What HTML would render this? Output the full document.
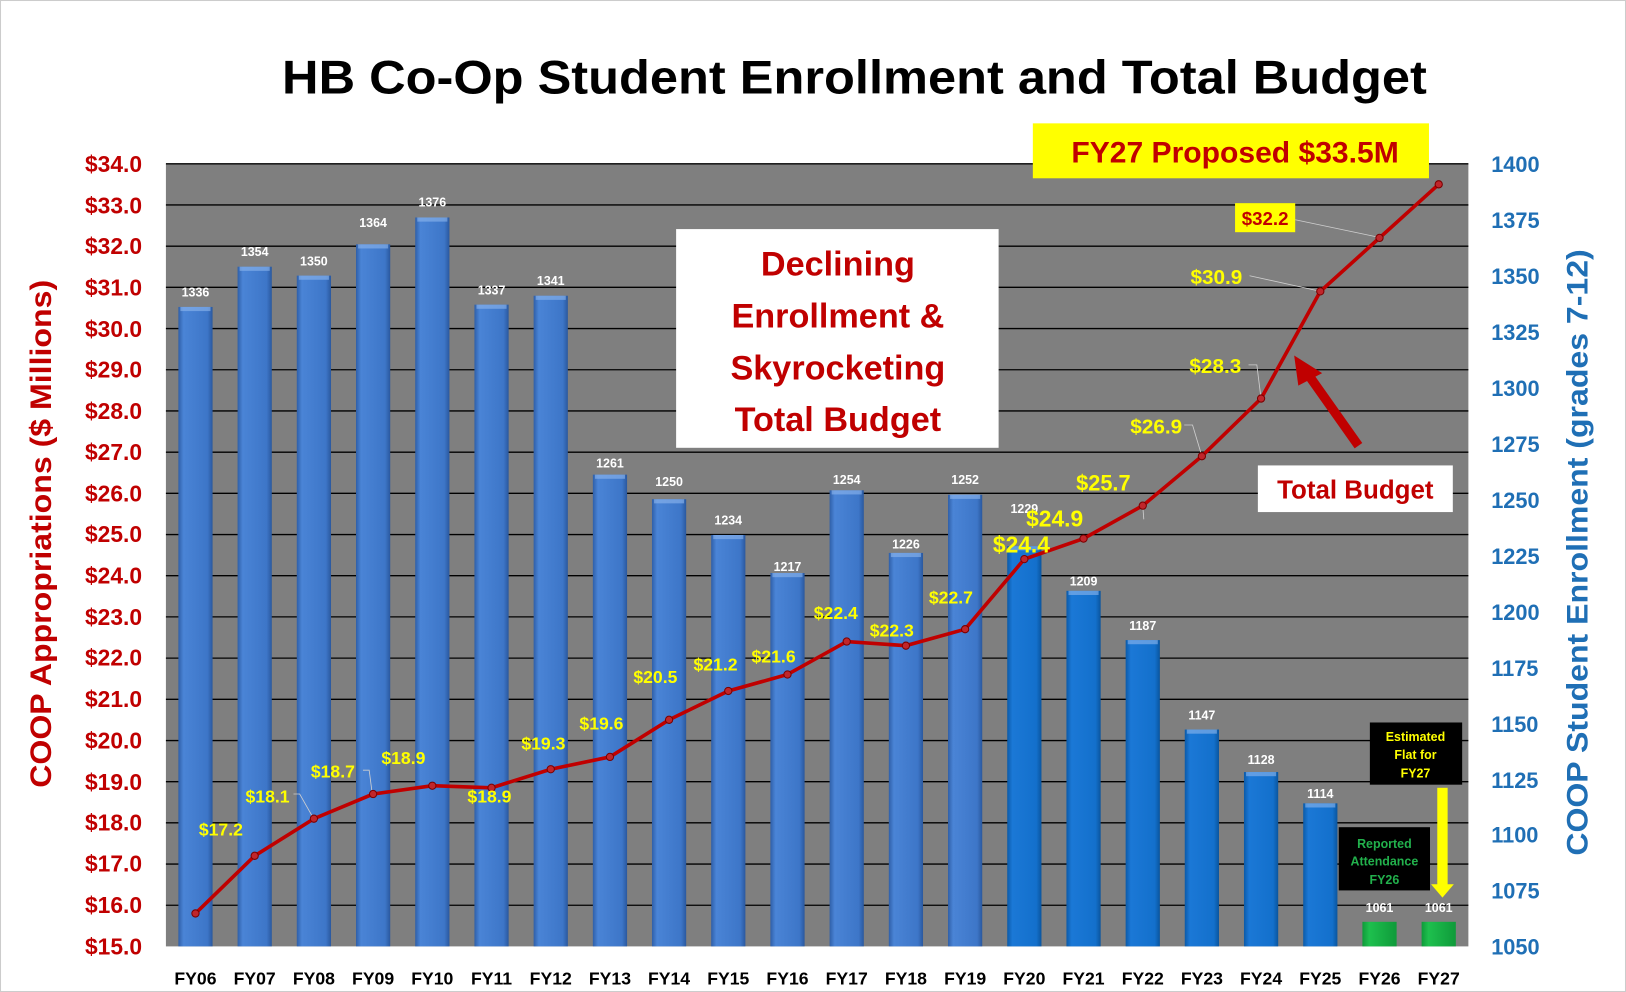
<!DOCTYPE html>
<html><head><meta charset="utf-8"><style>
html,body{margin:0;padding:0;background:#fff;}
svg{display:block;font-family:"Liberation Sans",sans-serif;font-weight:bold;}
</style></head><body>
<svg width="1626" height="992" viewBox="0 0 1568 957" preserveAspectRatio="none" xmlns="http://www.w3.org/2000/svg">
<defs>
<linearGradient id="b1" x1="0" x2="1" y1="0" y2="0"><stop offset="0" stop-color="#2f5fa8"/><stop offset="0.15" stop-color="#4a84d6"/><stop offset="0.85" stop-color="#3d76c8"/><stop offset="1" stop-color="#2a589e"/></linearGradient>
<linearGradient id="b2" x1="0" x2="1" y1="0" y2="0"><stop offset="0" stop-color="#0b5aa8"/><stop offset="0.15" stop-color="#1b78d6"/><stop offset="0.85" stop-color="#1370cc"/><stop offset="1" stop-color="#0a559e"/></linearGradient>
<linearGradient id="b3" x1="0" x2="1" y1="0" y2="0"><stop offset="0" stop-color="#0f9a3a"/><stop offset="0.2" stop-color="#1ec04e"/><stop offset="1" stop-color="#0f9a3a"/></linearGradient>
</defs>
<rect x="0.5" y="0.5" width="1567" height="956" fill="#fff" stroke="#ccc"/>
<text x="824" y="90" font-size="46" text-anchor="middle" textLength="1104" lengthAdjust="spacingAndGlyphs" fill="#000">HB Co-Op Student Enrollment and Total Budget</text>
<rect x="160" y="158" width="1256" height="755" fill="#7f7f7f"/>
<g stroke="#000" stroke-width="1.3">
<line x1="160" x2="1416" y1="158" y2="158"/><line x1="160" x2="1416" y1="197.7" y2="197.7"/><line x1="160" x2="1416" y1="237.5" y2="237.5"/><line x1="160" x2="1416" y1="277.2" y2="277.2"/><line x1="160" x2="1416" y1="317" y2="317"/><line x1="160" x2="1416" y1="356.7" y2="356.7"/><line x1="160" x2="1416" y1="396.4" y2="396.4"/><line x1="160" x2="1416" y1="436.2" y2="436.2"/><line x1="160" x2="1416" y1="475.9" y2="475.9"/><line x1="160" x2="1416" y1="515.7" y2="515.7"/><line x1="160" x2="1416" y1="555.4" y2="555.4"/><line x1="160" x2="1416" y1="595.1" y2="595.1"/><line x1="160" x2="1416" y1="634.9" y2="634.9"/><line x1="160" x2="1416" y1="674.6" y2="674.6"/><line x1="160" x2="1416" y1="714.4" y2="714.4"/><line x1="160" x2="1416" y1="754.1" y2="754.1"/><line x1="160" x2="1416" y1="793.8" y2="793.8"/><line x1="160" x2="1416" y1="833.6" y2="833.6"/><line x1="160" x2="1416" y1="873.3" y2="873.3"/>
</g>
<g fill="url(#b1)">
<rect x="172" y="296.1" width="33" height="616.9"/><rect x="229.1" y="257.3" width="33" height="655.7"/><rect x="286.2" y="265.9" width="33" height="647.1"/><rect x="343.3" y="235.7" width="33" height="677.3"/><rect x="400.4" y="209.8" width="33" height="703.2"/><rect x="457.5" y="293.9" width="33" height="619.1"/><rect x="514.6" y="285.3" width="33" height="627.7"/><rect x="571.7" y="457.9" width="33" height="455.1"/><rect x="628.7" y="481.6" width="33" height="431.4"/><rect x="685.8" y="516.1" width="33" height="396.9"/><rect x="742.9" y="552.8" width="33" height="360.2"/><rect x="800" y="473" width="33" height="440"/><rect x="857.1" y="533.4" width="33" height="379.6"/><rect x="914.2" y="477.3" width="33" height="435.7"/>
</g>
<g fill="url(#b2)">
<rect x="971.3" y="526.9" width="33" height="386.1"/><rect x="1028.4" y="570" width="33" height="343"/><rect x="1085.5" y="617.5" width="33" height="295.5"/><rect x="1142.5" y="703.8" width="33" height="209.2"/><rect x="1199.6" y="744.8" width="33" height="168.2"/><rect x="1256.7" y="775" width="33" height="138"/>
</g>
<g fill="url(#b3)"><rect x="1313.8" y="889.3" width="33" height="23.7"/><rect x="1370.9" y="889.3" width="33" height="23.7"/></g>
<g fill="#8fb8ee" opacity="0.6">
<rect x="174" y="296.1" width="29" height="4"/><rect x="231.1" y="257.3" width="29" height="4"/><rect x="288.2" y="265.9" width="29" height="4"/><rect x="345.3" y="235.7" width="29" height="4"/><rect x="402.4" y="209.8" width="29" height="4"/><rect x="459.5" y="293.9" width="29" height="4"/><rect x="516.6" y="285.3" width="29" height="4"/><rect x="573.7" y="457.9" width="29" height="4"/><rect x="630.7" y="481.6" width="29" height="4"/><rect x="687.8" y="516.1" width="29" height="4"/><rect x="744.9" y="552.8" width="29" height="4"/><rect x="802" y="473" width="29" height="4"/><rect x="859.1" y="533.4" width="29" height="4"/><rect x="916.2" y="477.3" width="29" height="4"/><rect x="973.3" y="526.9" width="29" height="4"/><rect x="1030.4" y="570" width="29" height="4"/><rect x="1087.5" y="617.5" width="29" height="4"/><rect x="1144.5" y="703.8" width="29" height="4"/><rect x="1201.6" y="744.8" width="29" height="4"/><rect x="1258.7" y="775" width="29" height="4"/>
</g>
<g fill="#fff" font-size="12" text-anchor="middle">
<text x="188.5" y="286">1336</text><text x="245.6" y="247">1354</text><text x="302.7" y="256">1350</text><text x="359.8" y="219">1364</text><text x="416.9" y="199">1376</text><text x="474" y="284">1337</text><text x="531.1" y="275">1341</text><text x="588.2" y="451">1261</text><text x="645.2" y="469">1250</text><text x="702.3" y="506">1234</text><text x="759.4" y="551">1217</text><text x="816.5" y="467">1254</text><text x="873.6" y="529">1226</text><text x="930.7" y="467">1252</text><text x="987.8" y="495">1229</text><text x="1044.9" y="565">1209</text><text x="1102" y="608">1187</text><text x="1159" y="694">1147</text><text x="1216.1" y="737">1128</text><text x="1273.2" y="770">1114</text><text x="1330.3" y="880">1061</text><text x="1387.4" y="880">1061</text>
</g>
<g stroke="#cfcfcf" stroke-width="0.8" fill="none">
<polyline points="283,766 289,766 302,789"/><polyline points="350,743 356,743 359,766"/><polyline points="1103,501 1102,488"/><polyline points="1142,410 1150,410 1159,440"/><polyline points="1204,352 1212,352 1216,384"/><polyline points="1205,266 1273,281"/><polyline points="1249,212 1330,229"/>
</g>
<polyline fill="none" stroke="#c00000" stroke-width="3.5" points="188.5,881.2 245.6,825.6 302.7,789.8 359.8,766 416.9,758 474,760 531.1,742.1 588.2,730.2 645.2,694.4 702.3,666.6 759.4,650.7 816.5,618.9 873.6,622.9 930.7,607 987.8,539.4 1044.9,519.6 1102,487.8 1159,440.1 1216.1,384.5 1273.2,281.1 1330.3,229.5 1387.4,177.8"/>
<g fill="#c0262b" stroke="#7a0000" stroke-width="1">
<circle cx="188.5" cy="881.2" r="3.5"/><circle cx="245.6" cy="825.6" r="3.5"/><circle cx="302.7" cy="789.8" r="3.5"/><circle cx="359.8" cy="766" r="3.5"/><circle cx="416.9" cy="758" r="3.5"/><circle cx="474" cy="760" r="3.5"/><circle cx="531.1" cy="742.1" r="3.5"/><circle cx="588.2" cy="730.2" r="3.5"/><circle cx="645.2" cy="694.4" r="3.5"/><circle cx="702.3" cy="666.6" r="3.5"/><circle cx="759.4" cy="650.7" r="3.5"/><circle cx="816.5" cy="618.9" r="3.5"/><circle cx="873.6" cy="622.9" r="3.5"/><circle cx="930.7" cy="607" r="3.5"/><circle cx="987.8" cy="539.4" r="3.5"/><circle cx="1044.9" cy="519.6" r="3.5"/><circle cx="1102" cy="487.8" r="3.5"/><circle cx="1159" cy="440.1" r="3.5"/><circle cx="1216.1" cy="384.5" r="3.5"/><circle cx="1273.2" cy="281.1" r="3.5"/><circle cx="1330.3" cy="229.5" r="3.5"/><circle cx="1387.4" cy="177.8" r="3.5"/>
</g>
<g fill="#ffff00" font-size="17" text-anchor="middle">
<text x="213" y="806">$17.2</text><text x="258" y="774">$18.1</text><text x="321" y="750">$18.7</text><text x="389" y="737">$18.9</text><text x="472" y="774">$18.9</text><text x="524" y="723">$19.3</text><text x="580" y="704">$19.6</text><text x="632" y="659">$20.5</text><text x="690" y="647">$21.2</text><text x="746" y="639">$21.6</text><text x="806" y="597">$22.4</text><text x="860" y="614">$22.3</text><text x="917" y="582">$22.7</text>
<text x="985" y="533" font-size="22">$24.4</text><text x="1017" y="508" font-size="22">$24.9</text><text x="1064" y="473" font-size="21">$25.7</text><text x="1115" y="418" font-size="20">$26.9</text><text x="1172" y="360" font-size="20">$28.3</text><text x="1173" y="274" font-size="20">$30.9</text>
</g>
<rect x="1191" y="196" width="58" height="28" fill="#ffff00"/>
<text x="1220" y="217" fill="#c00000" font-size="18" text-anchor="middle">$32.2</text>
<g fill="#c00000" font-size="22" text-anchor="end">
<text x="137" y="166">$34.0</text><text x="137" y="206">$33.0</text><text x="137" y="245">$32.0</text><text x="137" y="285">$31.0</text><text x="137" y="325">$30.0</text><text x="137" y="364">$29.0</text><text x="137" y="404">$28.0</text><text x="137" y="444">$27.0</text><text x="137" y="484">$26.0</text><text x="137" y="523">$25.0</text><text x="137" y="563">$24.0</text><text x="137" y="603">$23.0</text><text x="137" y="642">$22.0</text><text x="137" y="682">$21.0</text><text x="137" y="722">$20.0</text><text x="137" y="762">$19.0</text><text x="137" y="801">$18.0</text><text x="137" y="841">$17.0</text><text x="137" y="881">$16.0</text><text x="137" y="921">$15.0</text>
</g>
<g fill="#1f6fb5" font-size="21">
<text x="1438" y="166">1400</text><text x="1438" y="220">1375</text><text x="1438" y="274">1350</text><text x="1438" y="328">1325</text><text x="1438" y="382">1300</text><text x="1438" y="436">1275</text><text x="1438" y="490">1250</text><text x="1438" y="544">1225</text><text x="1438" y="598">1200</text><text x="1438" y="652">1175</text><text x="1438" y="706">1150</text><text x="1438" y="760">1125</text><text x="1438" y="813">1100</text><text x="1438" y="867">1075</text><text x="1438" y="921">1050</text>
</g>
<text transform="translate(49,515) rotate(-90)" fill="#c00000" font-size="29" text-anchor="middle" textLength="490" lengthAdjust="spacingAndGlyphs">COOP Appropriations ($ Millions)</text>
<text transform="translate(1531,533) rotate(-90)" fill="#1f6fb5" font-size="29" text-anchor="middle" textLength="585" lengthAdjust="spacingAndGlyphs">COOP Student Enrollment (grades 7-12)</text>
<g fill="#000" font-size="17" text-anchor="middle">
<text x="188.5" y="950">FY06</text><text x="245.6" y="950">FY07</text><text x="302.7" y="950">FY08</text><text x="359.8" y="950">FY09</text><text x="416.9" y="950">FY10</text><text x="474" y="950">FY11</text><text x="531.1" y="950">FY12</text><text x="588.2" y="950">FY13</text><text x="645.2" y="950">FY14</text><text x="702.3" y="950">FY15</text><text x="759.4" y="950">FY16</text><text x="816.5" y="950">FY17</text><text x="873.6" y="950">FY18</text><text x="930.7" y="950">FY19</text><text x="987.8" y="950">FY20</text><text x="1044.9" y="950">FY21</text><text x="1102" y="950">FY22</text><text x="1159" y="950">FY23</text><text x="1216.1" y="950">FY24</text><text x="1273.2" y="950">FY25</text><text x="1330.3" y="950">FY26</text><text x="1387.4" y="950">FY27</text>
</g>
<rect x="652" y="221" width="311" height="211" fill="#fff"/>
<g fill="#c00000" font-size="33" text-anchor="middle">
<text x="808" y="266">Declining</text><text x="808" y="316">Enrollment &amp;</text><text x="808" y="366">Skyrocketing</text><text x="808" y="416">Total Budget</text>
</g>
<rect x="996" y="119" width="382" height="53" fill="#ffff00"/>
<text x="1191" y="157" fill="#c00000" font-size="29" text-anchor="middle">FY27 Proposed $33.5M</text>
<rect x="1213" y="449" width="188" height="45" fill="#fff"/>
<text x="1307" y="481" fill="#c00000" font-size="25" text-anchor="middle">Total Budget</text>
<line x1="1310" y1="430" x2="1262" y2="362" stroke="#c00000" stroke-width="9"/>
<polygon points="1248,343 1275,360 1252,372" fill="#c00000"/>
<rect x="1321" y="697" width="89" height="60" fill="#000"/>
<g fill="#ffff00" font-size="12" text-anchor="middle"><text x="1365" y="715">Estimated</text><text x="1365" y="732">Flat for</text><text x="1365" y="750">FY27</text></g>
<rect x="1291" y="798" width="88" height="61" fill="#000"/>
<g fill="#22b14c" font-size="12" text-anchor="middle"><text x="1335" y="818">Reported</text><text x="1335" y="835">Attendance</text><text x="1335" y="853">FY26</text></g>
<rect x="1386" y="760" width="10" height="95" fill="#ffff00"/>
<polygon points="1380,853 1402,853 1391,866" fill="#ffff00"/>
</svg>
</body></html>
